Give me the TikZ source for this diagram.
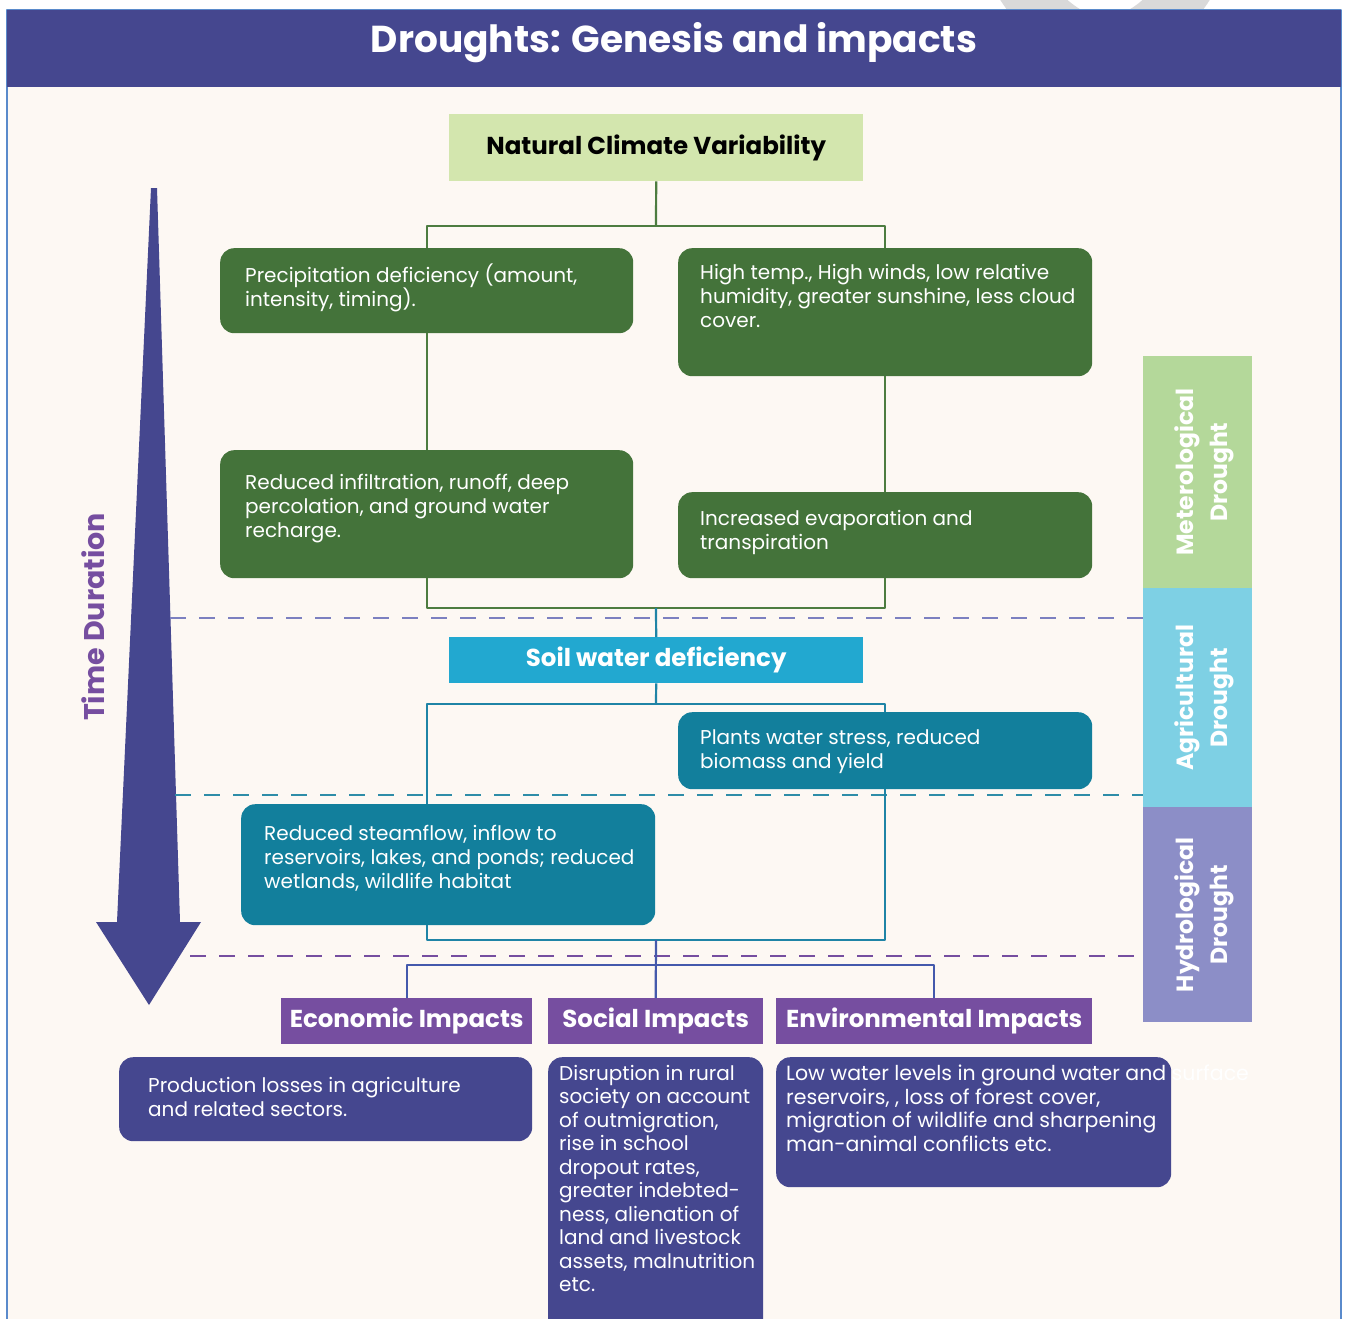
\documentclass[tikz,border=0pt]{standalone}
\usepackage{fontspec}
\setmainfont{Poppins}
\usetikzlibrary{positioning}
\definecolor{navy}{RGB}{69,71,143}
\definecolor{leaf}{RGB}{68,115,58}
\definecolor{lightleaf}{RGB}{211,230,174}
\definecolor{sky}{RGB}{34,168,208}
\definecolor{sea}{RGB}{18,127,156}
\definecolor{grape}{RGB}{118,78,160}
\definecolor{meteocol}{RGB}{180,216,154}
\definecolor{agricol}{RGB}{126,208,228}
\definecolor{hydrocol}{RGB}{140,142,199}
\definecolor{cream}{RGB}{253,248,243}
\definecolor{framecol}{RGB}{90,138,203}
\definecolor{lavender}{RGB}{124,128,192}
\definecolor{seadash}{RGB}{46,141,168}
\definecolor{leafline}{RGB}{77,124,64}
\definecolor{sealine}{RGB}{31,132,166}
\definecolor{navyline}{RGB}{68,89,172}

\begin{document}
\begin{tikzpicture}[x=1pt, y=-1pt, line join=round,
  panel/.style={rectangle, inner sep=0pt, anchor=north west},
  rpanel/.style={panel, rounded corners=14pt},
  btext/.style={anchor=north west, align=left, inner sep=0pt, text=white,
    font=\fontsize{20}{24}\selectfont},
  headtext/.style={font=\bfseries\fontsize{24.5}{28}\selectfont},
  bandtext/.style={rotate=90, align=center, text=white, inner sep=0pt, yshift=-7pt,
    font=\bfseries\fontsize{23.5}{34}\selectfont},
  sep/.style={line width=2pt, dash pattern=on 16pt off 13pt},
  gline/.style={leafline, line width=2.2pt},
  tline/.style={sealine, line width=2.2pt},
  bline/.style={navyline, line width=2.2pt}]

\useasboundingbox (0,0) rectangle (1347,1319);
\clip (0,0) rectangle (1347,1319);
\fill[white] (0,0) rectangle (1347,1319);

% ---------- background ----------
\draw[black!15, line width=52pt] (995,-70) .. controls (1050,80) and (1160,80) .. (1215,-70);
\draw[framecol, fill=cream, line width=2pt] (7,10) rectangle (1341,1360);
\fill[navy] (7,10) rectangle (1341,87);
\node[text=white, font=\bfseries\fontsize{37.5}{42}\selectfont] (title) at (674,43) {Droughts: Genesis and impacts};

% ---------- time arrow ----------
\fill[navy] (151,188) -- (157,188) -- (180,922) -- (201,922) -- (149,1005)
  -- (96,922) -- (117,922) -- cycle;
\node[rotate=90, text=grape, font=\bfseries\fontsize{28.5}{32}\selectfont] (timelbl) at (93,617) {Time Duration};

% ---------- drought bands ----------
\node[panel, fill=meteocol, minimum width=109pt, minimum height=232pt] (meteo) at (1143,356) {};
\node[panel, fill=agricol, minimum width=109pt, minimum height=219pt] (agri) at (1143,588) {};
\node[panel, fill=hydrocol, minimum width=109pt, minimum height=215pt] (hydro) at (1143,807) {};
\node[bandtext] at (meteo.center) {Meterological\\Drought};
\node[bandtext] at (agri.center) {Agricultural\\Drought};
\node[bandtext] at (hydro.center) {Hydrological\\Drought};

% ---------- stage separators ----------
\coordinate (cut1) at (170,618);
\coordinate (cut2) at (175,795);
\coordinate (cut3) at (190,956);
\draw[sep, lavender] (cut1) -- (cut1 -| agri.west);
\draw[sep, seadash] (cut2) -- (cut2 -| agri.west);
\draw[sep, grape] (cut3) -- (cut3 -| hydro.west);

% ---------- boxes ----------
\node[panel, fill=lightleaf, minimum width=414pt, minimum height=67pt, headtext] (ncv) at (449,114) {Natural Climate Variability};
\node[rpanel, fill=leaf, minimum width=413pt, minimum height=85pt] (precip) at (220,248) {};
\node[rpanel, fill=leaf, minimum width=414pt, minimum height=128pt] (heat) at (678,248) {};
\node[rpanel, fill=leaf, minimum width=413pt, minimum height=128pt] (infil) at (220,450) {};
\node[rpanel, fill=leaf, minimum width=414pt, minimum height=86pt] (evap) at (678,492) {};
\node[panel, fill=sky, minimum width=414pt, minimum height=46pt, headtext, text=white] (soil) at (449,637) {Soil water deficiency};
\node[rpanel, fill=sea, minimum width=414pt, minimum height=77pt] (plants) at (678,712) {};
\node[rpanel, fill=sea, minimum width=414pt, minimum height=121pt] (stream) at (241,804) {};
\node[panel, fill=grape, minimum width=251pt, minimum height=46pt, headtext, text=white] (econ) at (281,998) {Economic Impacts};
\node[panel, fill=grape, minimum width=215pt, minimum height=46pt, headtext, text=white] (social) at (548,998) {Social Impacts};
\node[panel, fill=grape, minimum width=316pt, minimum height=46pt, headtext, text=white] (env) at (776,998) {Environmental Impacts};
\node[rpanel, fill=navy, minimum width=413pt, minimum height=84pt] (prod) at (119,1057) {};
\node[rpanel, fill=navy, minimum width=215pt, minimum height=300pt] (rural) at (548,1057) {};
\node[rpanel, fill=navy, minimum width=395pt, minimum height=130pt] (nature) at (776,1057) {};

% ---------- connectors ----------
\coordinate (split1) at (656,226);
\coordinate (join1) at (656,608);
\coordinate (split2) at (656,704);
\coordinate (join2) at (656,940);
\coordinate (split3) at (656,965);
\draw[gline] (ncv.south) -- (split1);
\draw[gline] (precip.north) |- (split1) -| (heat.north);
\draw[gline] (precip.south) -- (infil.north);
\draw[gline] (heat.south) -- (evap.north);
\draw[gline] (infil.south) |- (join1) -| (evap.south);
\draw[tline] (join1) -- (soil.north);
\draw[tline] (soil.south) -- (split2);
\draw[tline] (infil.south |- stream.north) |- (split2) -| (plants.north);
\draw[tline] (infil.south |- stream.south) |- (join2) -| (plants.south);
\draw[bline] (join2) -- (social.north);
\draw[bline] (econ.north) |- (split3) -| (env.north);

% ---------- texts ----------
\node[btext] (precipT) at ([xshift=25pt, yshift=-16pt]precip.north west)
  {Precipitation deficiency (amount,\\intensity, timing).};
\node[btext] (heatT) at ([xshift=22pt, yshift=-16pt]heat.north west)
  {High temp., High winds, low relative\\humidity, greater sunshine, less cloud\\cover.};
\node[btext] (infilT) at ([xshift=25pt, yshift=-24pt]infil.north west)
  {Reduced infiltration, runoff, deep\\percolation, and ground water\\recharge.};
\node[btext] (evapT) at ([xshift=22pt, yshift=-18pt]evap.north west)
  {Increased evaporation and\\transpiration};
\node[btext] (plantsT) at ([xshift=22pt, yshift=-17pt]plants.north west)
  {Plants water stress, reduced\\biomass and yield};
\node[btext] (streamT) at ([xshift=23pt, yshift=-21pt]stream.north west)
  {Reduced steamflow, inflow to\\reservoirs, lakes, and ponds; reduced\\wetlands, wildlife habitat};
\node[btext] (prodT) at ([xshift=29pt, yshift=-20pt]prod.north west)
  {Production losses in agriculture\\and related sectors.};
\node[btext, font=\fontsize{20}{23.5}\selectfont] (ruralT) at ([xshift=11pt, yshift=-8pt]rural.north west)
  {Disruption in rural\\society on account\\of outmigration,\\rise in school\\dropout rates,\\greater indebted-\\ness, alienation of\\land and livestock\\assets, malnutrition\\etc.};
\node[btext, font=\fontsize{20.5}{23.5}\selectfont] (natureT) at ([xshift=10pt, yshift=-8pt]nature.north west)
  {Low water levels in ground water and surface\\reservoirs, , loss of forest cover,\\migration of wildlife and sharpening\\man-animal conflicts etc.};

\end{tikzpicture}
\end{document}
